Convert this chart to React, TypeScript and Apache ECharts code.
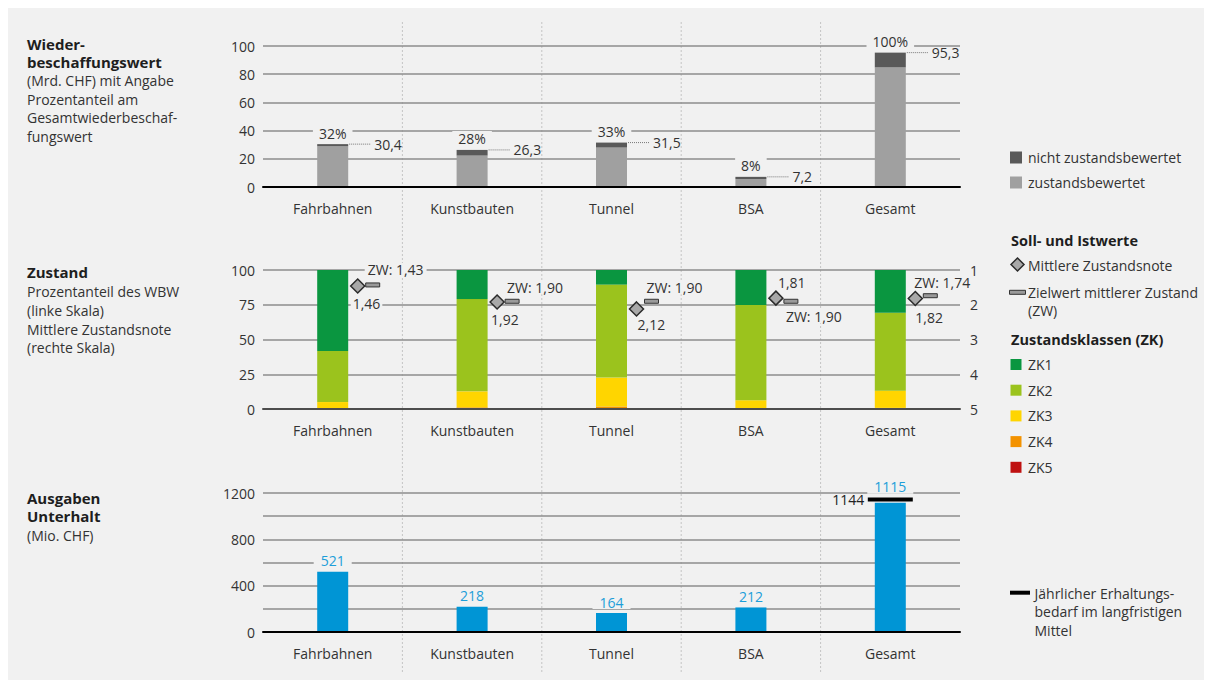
import React, { useEffect, useRef } from 'react';
import * as echarts from 'echarts';

// ---------- DATA ----------
const categories = ['Fahrbahnen', 'Kunstbauten', 'Tunnel', 'BSA', 'Gesamt'];

// Panel 1: Wiederbeschaffungswert (Mrd. CHF)
const wbwRated = [28.9, 22.3, 28.0, 5.6, 84.8];
const wbwNotRated = [1.5, 4.0, 3.5, 1.6, 10.5];
const wbwShareLabels = ['32%', '28%', '33%', '8%', '100%'];

// Panel 2: Zustand (Prozentanteil des WBW)
const zk1 = [58.3, 20.9, 10.5, 25.2, 30.7];
const zk2 = [36.7, 66.4, 66.9, 68.5, 56.1];
const zk3 = [4.5, 11.5, 20.8, 6.1, 12.4];
const zk4 = [0.3, 0.8, 1.2, 0.2, 0.6];
const zk5 = [0.2, 0.4, 0.6, 0.0, 0.2];
const noteValues = [1.46, 1.92, 2.12, 1.81, 1.82];
const targetValues = [1.43, 1.9, 1.9, 1.9, 1.74];

// Panel 3: Ausgaben Unterhalt (Mio. CHF)
const maintenance = [521, 218, 164, 212, 1115];
const maintenanceNeed: (number | null)[] = [null, null, null, null, 1144];

// ---------- LAYOUT / STYLE ----------
const W = 1196;
const H = 672;
const BG = '#f1f1f1';
const FONT = '"Open Sans", "Noto Sans", sans-serif';
const TXT = '#333333';
const GRID_LEFT = 255;
const GRID_RIGHT = 244;
const GRID_W = W - GRID_LEFT - GRID_RIGHT;
const BAR_W = 31;
const GRID_LINE = { color: '#8c8c8c', width: 1.5 };

const COL_RATED = '#a0a0a0';
const COL_NOT = '#595959';
const COL_ZK = ['#0a9640', '#9bc31d', '#ffd500', '#f39200', '#bf1111'];
const COL_BLUE = '#0095d5';
const COL_BLUE_TXT = '#1d9ed9';

// label offsets relative to marker centres [dx, dy]
const noteLabelOffset = [[-7, 18], [-8, 18], [-1, 16], [0, -16], [-2, 19]];
const targetLabelOffset = [[-8, -15], [-8, -14], [-8, -14], [-8, 15], [-19, -13]];
const NOTE_DX = 25;
const TARGET_DX = 40;

const fmt1 = (v: number) => v.toFixed(1).replace('.', ',');
const fmt2 = (v: number) => v.toFixed(2).replace('.', ',');

const textStyle = (text: string, extra: any = {}) => ({
  text,
  fill: TXT,
  fontSize: 14,
  fontFamily: FONT,
  align: 'left',
  verticalAlign: 'middle',
  ...extra,
});

function buildOption(): any {
  const catAxis = (gridIndex: number, lineColor: string) => ({
    type: 'category',
    gridIndex,
    data: categories,
    axisTick: { show: false },
    axisLine: { lineStyle: { color: lineColor, width: 2 } },
    axisLabel: { color: TXT, fontSize: 14, fontFamily: FONT, margin: 14 },
    z: 5,
  });
  const valAxis = (gridIndex: number, min: number, max: number, interval: number, fmt?: any) => ({
    type: 'value',
    gridIndex,
    min,
    max,
    interval,
    axisLine: { show: false },
    axisTick: { show: false },
    splitLine: { show: true, lineStyle: GRID_LINE },
    axisLabel: { color: TXT, fontSize: 14, fontFamily: FONT, margin: 8, formatter: fmt },
  });

  const totals = categories.map((_, i) => [i, Math.round((wbwRated[i] + wbwNotRated[i]) * 10) / 10]);

  const zkSeries = [zk5, zk4, zk3, zk2, zk1].map((arr, k) => {
    const idx = 4 - k;
    return {
      name: 'ZK' + (idx + 1),
      type: 'bar',
      xAxisIndex: 1,
      yAxisIndex: 1,
      stack: 'zk',
      barWidth: BAR_W,
      data: arr,
      itemStyle: { color: COL_ZK[idx] },
    };
  });

  // graphic: titles, legends, separators
  const g: any[] = [];
  const addText = (x: number, y: number, text: string, bold = false, size = 14) => {
    g.push({
      type: 'text',
      x,
      y,
      style: textStyle(text, {
        fontWeight: bold ? 'bold' : 'normal',
        fontSize: size,
        lineHeight: bold ? 17 : 18,
        fill: bold ? '#1e1e1e' : TXT,
      }),
    });
  };
  // separators
  for (let k = 1; k < categories.length; k++) {
    const x = GRID_LEFT + (k * GRID_W) / categories.length;
    g.push({
      type: 'line',
      shape: { x1: x, y1: 14, x2: x, y2: 664 },
      style: { stroke: '#c4c4c4', lineWidth: 1, lineDash: [2, 2] },
      z: 0,
    });
  }
  // titles
  addText(19, 35.5, 'Wieder-', true, 15);
  addText(19, 53.5, 'beschaffungswert', true, 15);
  addText(19, 72.5, '(Mrd. CHF) mit Angabe');
  addText(19, 91, 'Prozentanteil am');
  addText(19, 109.5, 'Gesamtwiederbeschaf-');
  addText(19, 128, 'fungswert');

  addText(19, 264, 'Zustand', true, 15);
  addText(19, 283.5, 'Prozentanteil des WBW');
  addText(19, 302, '(linke Skala)');
  addText(19, 321, 'Mittlere Zustandsnote');
  addText(19, 339.5, '(rechte Skala)');

  addText(19, 490, 'Ausgaben', true, 15);
  addText(19, 508, 'Unterhalt', true, 15);
  addText(19, 527, '(Mio. CHF)');

  // legend 1
  g.push({ type: 'rect', shape: { x: 1002, y: 143.5, width: 12, height: 12 }, style: { fill: COL_NOT } });
  addText(1020, 149.5, 'nicht zustandsbewertet');
  g.push({ type: 'rect', shape: { x: 1002, y: 168.5, width: 12, height: 12 }, style: { fill: COL_RATED } });
  addText(1020, 174.5, 'zustandsbewertet');

  // legend 2
  addText(1003, 232.5, 'Soll- und Istwerte', true, 14.5);
  g.push({
    type: 'polygon',
    shape: { points: [[1009.5, 250], [1016, 256.5], [1009.5, 263], [1003, 256.5]] },
    style: { fill: '#a8a8a8', stroke: '#2b2b2b', lineWidth: 1.5 },
  });
  addText(1020, 257.5, 'Mittlere Zustandsnote');
  g.push({
    type: 'rect',
    shape: { x: 1001.5, y: 282.3, width: 16, height: 4 },
    style: { fill: '#9a9a9a', stroke: '#333', lineWidth: 1 },
  });
  addText(1020, 284, 'Zielwert mittlerer Zustand');
  addText(1020, 302, '(ZW)');
  addText(1003, 331, 'Zustandsklassen (ZK)', true, 14.5);
  for (let k = 0; k < 5; k++) {
    const cy = 356.5 + k * 25.7;
    g.push({ type: 'rect', shape: { x: 1002.5, y: cy - 5.5, width: 11, height: 11 }, style: { fill: COL_ZK[k] } });
    addText(1020, cy, 'ZK' + (k + 1));
  }

  // legend 3
  g.push({ type: 'rect', shape: { x: 1002, y: 582.7, width: 20, height: 4 }, style: { fill: '#000' } });
  addText(1026.5, 585, 'Jährlicher Erhaltungs-');
  addText(1026.5, 603.5, 'bedarf im langfristigen');
  addText(1026.5, 622, 'Mittel');

  return {
    animation: false,
    backgroundColor: BG,
    textStyle: { fontFamily: FONT },
    legend: { show: false },
    grid: [
      { left: GRID_LEFT, right: GRID_RIGHT, top: 38, height: 141 },
      { left: GRID_LEFT, right: GRID_RIGHT, top: 262, height: 139 },
      { left: GRID_LEFT, right: GRID_RIGHT, top: 485, height: 139 },
    ],
    xAxis: [catAxis(0, '#000'), catAxis(1, '#4d4d4d'), catAxis(2, '#000')],
    yAxis: [
      valAxis(0, 0, 100, 20),
      valAxis(1, 0, 100, 25),
      {
        type: 'value',
        gridIndex: 1,
        position: 'right',
        inverse: true,
        min: 1,
        max: 5,
        interval: 1,
        axisLine: { show: false },
        axisTick: { show: false },
        splitLine: { show: false },
        axisLabel: { color: TXT, fontSize: 14, fontFamily: FONT, margin: 10 },
      },
      valAxis(2, 0, 1200, 200, (v: number) => (v % 400 === 0 ? String(v) : '')),
    ],
    series: [
      {
        name: 'zustandsbewertet',
        type: 'bar',
        xAxisIndex: 0,
        yAxisIndex: 0,
        stack: 'wbw',
        barWidth: BAR_W,
        data: wbwRated,
        itemStyle: { color: COL_RATED },
      },
      {
        name: 'nicht zustandsbewertet',
        type: 'bar',
        xAxisIndex: 0,
        yAxisIndex: 0,
        stack: 'wbw',
        barWidth: BAR_W,
        data: wbwNotRated,
        itemStyle: { color: COL_NOT },
        label: {
          show: true,
          position: 'top',
          distance: 3,
          formatter: (p: any) => wbwShareLabels[p.dataIndex],
          color: TXT,
          fontSize: 14,
          fontFamily: FONT,
          backgroundColor: BG,
          padding: [1, 6],
        },
      },
      {
        name: 'WBW total',
        type: 'custom',
        xAxisIndex: 0,
        yAxisIndex: 0,
        data: totals,
        encode: { x: 0, y: 1 },
        z: 6,
        renderItem: (params: any, api: any) => {
          const i = api.value(0);
          const v = api.value(1);
          const p = api.coord([i, v]);
          const x0 = p[0] + BAR_W / 2;
          return {
            type: 'group',
            children: [
              {
                type: 'line',
                shape: { x1: x0 + 1, y1: p[1], x2: x0 + 22, y2: p[1] },
                style: { stroke: '#777', lineWidth: 1, lineDash: [1, 1] },
              },
              { type: 'text', x: x0 + 26, y: p[1], style: textStyle(fmt1(v)) },
            ],
          };
        },
      },
      ...zkSeries,
      {
        name: 'Mittlere Zustandsnote',
        type: 'custom',
        xAxisIndex: 1,
        yAxisIndex: 2,
        data: noteValues.map((v, i) => [i, v]),
        encode: { x: 0, y: 1 },
        z: 7,
        renderItem: (params: any, api: any) => {
          const i = api.value(0);
          const v = api.value(1);
          const p = api.coord([i, v]);
          const cx = p[0] + NOTE_DX;
          const cy = p[1];
          const [dx, dy] = noteLabelOffset[i];
          return {
            type: 'group',
            children: [
              {
                type: 'polygon',
                shape: { points: [[cx, cy - 7], [cx + 7, cy], [cx, cy + 7], [cx - 7, cy]] },
                style: { fill: '#a8a8a8', stroke: '#2b2b2b', lineWidth: 1.5 },
              },
              {
                type: 'text',
                x: cx + dx,
                y: cy + dy,
                style: textStyle(fmt2(v), { backgroundColor: BG, padding: [0, 2] }),
              },
            ],
          };
        },
      },
      {
        name: 'Zielwert mittlerer Zustand (ZW)',
        type: 'custom',
        xAxisIndex: 1,
        yAxisIndex: 2,
        data: targetValues.map((v, i) => [i, v]),
        encode: { x: 0, y: 1 },
        z: 7,
        renderItem: (params: any, api: any) => {
          const i = api.value(0);
          const v = api.value(1);
          const p = api.coord([i, v]);
          const cx = p[0] + TARGET_DX;
          const cy = p[1];
          const [dx, dy] = targetLabelOffset[i];
          return {
            type: 'group',
            children: [
              {
                type: 'rect',
                shape: { x: cx - 7, y: cy - 2, width: 14, height: 4 },
                style: { fill: '#9a9a9a', stroke: '#333', lineWidth: 1 },
              },
              {
                type: 'text',
                x: cx + dx,
                y: cy + dy,
                style: textStyle('ZW: ' + fmt2(v), { backgroundColor: BG, padding: [0, 3] }),
              },
            ],
          };
        },
      },
      {
        name: 'Ausgaben Unterhalt',
        type: 'bar',
        xAxisIndex: 2,
        yAxisIndex: 3,
        barWidth: BAR_W,
        data: maintenance.map((v, i) =>
          maintenanceNeed[i] != null ? { value: v, label: { distance: 9 } } : v
        ),
        itemStyle: { color: COL_BLUE },
        label: {
          show: true,
          position: 'top',
          distance: 4,
          color: COL_BLUE_TXT,
          fontSize: 14,
          fontFamily: FONT,
          backgroundColor: BG,
          padding: [0, 7],
        },
      },
      {
        name: 'Jährlicher Erhaltungsbedarf im langfristigen Mittel',
        type: 'custom',
        xAxisIndex: 2,
        yAxisIndex: 3,
        data: maintenanceNeed
          .map((v, i) => (v == null ? null : [i, v]))
          .filter((d) => d !== null),
        encode: { x: 0, y: 1 },
        z: 1,
        renderItem: (params: any, api: any) => {
          const i = api.value(0);
          const v = api.value(1);
          const p = api.coord([i, v]);
          return {
            type: 'group',
            children: [
              {
                type: 'rect',
                shape: { x: p[0] - 22.5, y: p[1] - 2, width: 45, height: 4 },
                style: { fill: '#000' },
              },
              {
                type: 'text',
                x: p[0] - 26,
                y: p[1],
                style: textStyle(String(v), { align: 'right', fill: '#222' }),
              },
            ],
          };
        },
      },
    ],
    graphic: g,
  };
}

export default function App() {
  const ref = useRef<HTMLDivElement>(null);
  useEffect(() => {
    if (!ref.current) return;
    const chart = echarts.init(ref.current, null, { renderer: 'svg' });
    chart.setOption(buildOption());
    return () => chart.dispose();
  }, []);
  return <div ref={ref} style={{ width: W, height: H, background: BG }} />;
}
